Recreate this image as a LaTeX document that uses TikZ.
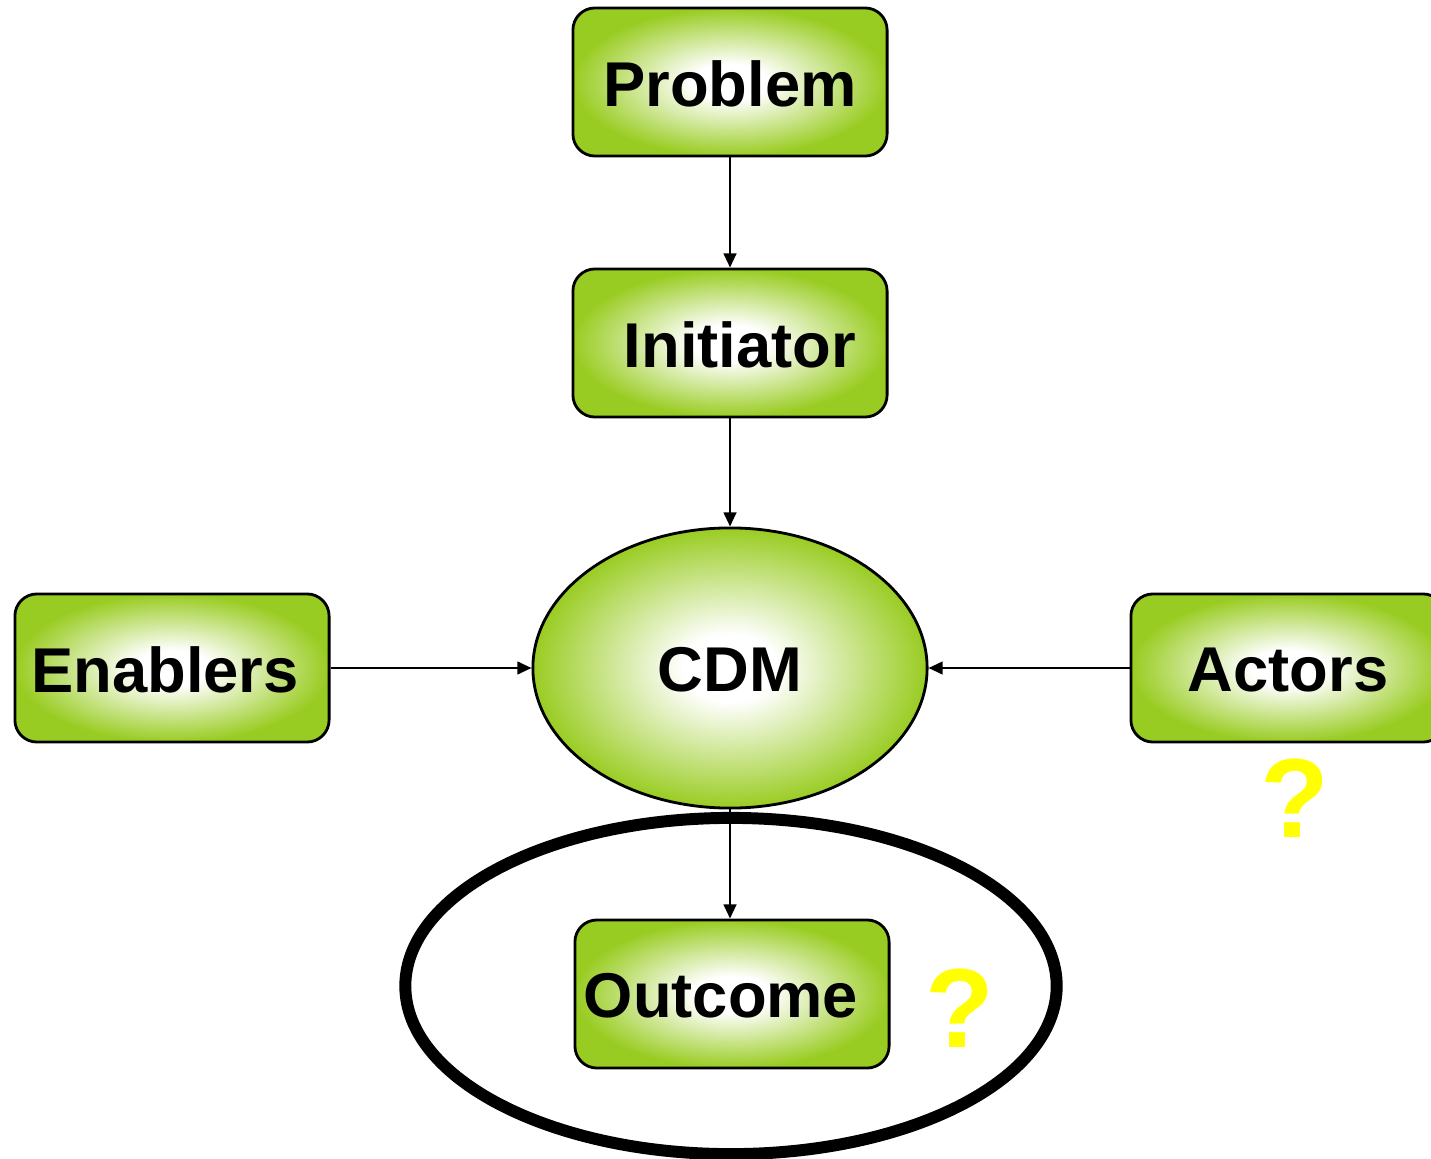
\documentclass[tikz,border=0pt]{standalone}
\usepackage{fontspec}
\setmainfont{Liberation Sans}
\usetikzlibrary{shapes.geometric,arrows.meta}
\definecolor{boxgreen}{RGB}{153,204,34}
\definecolor{qyellow}{RGB}{255,255,0}
\pgfdeclareradialshading{glow}{\pgfpoint{0bp}{0bp}}{color(0bp)=(white); color(6bp)=(white); color(25bp)=(boxgreen); color(50bp)=(boxgreen)}
\begin{document}
\begin{tikzpicture}[x=0.01cm,y=-0.01cm,
  box/.style={draw=black, line width=0.8pt, rounded corners=0.22cm, minimum width=3.14cm, minimum height=1.48cm, shade, shading=glow, inner sep=0pt},
  oval/.style={ellipse, draw=black, line width=0.8pt, minimum width=3.94cm, minimum height=2.80cm, shade, shading=glow, inner sep=0pt},
  lbl/.style={font=\fontsize{18}{21}\selectfont\bfseries, inner sep=0pt},
  conn/.style={line width=0.6pt, -{Triangle[length=4pt,width=3.6pt]}},
  qmark/.style={text=qyellow, font=\fontsize{32}{36}\selectfont\bfseries, inner sep=0pt}]
\useasboundingbox (0,0) rectangle (1431,1158);
\node[ellipse, draw=black, line width=3.4pt, minimum width=6.51cm, minimum height=3.36cm] (ring) at (731,986) {};
\node[box, label={[lbl,yshift=-0.02cm]center:Problem}] (problem) at (730,82) {};
\node[box, label={[lbl,xshift=0.1cm,yshift=-0.02cm]center:Initiator}] (initiator) at (730,343) {};
\node[oval, label={[lbl,yshift=-0.02cm]center:CDM}] (cdm) at (730,668) {};
\node[box, label={[lbl,xshift=-0.07cm,yshift=-0.02cm]center:Enablers}] (enablers) at (172,668) {};
\node[box, label={[lbl,yshift=-0.02cm]center:Actors}] (actors) at (1288,668) {};
\node[box, label={[lbl,xshift=-0.11cm,yshift=-0.02cm]center:Outcome}] (outcome) at (732,994) {};
\node[qmark] (q1) at (1295,798) {?};
\node[qmark] (q2) at (960,1008) {?};
\draw[conn] (problem) -- (initiator);
\draw[conn] (initiator) -- (cdm);
\draw[conn] (enablers) -- (cdm);
\draw[conn] (actors) -- (cdm);
\draw[conn] (cdm.south) -- (cdm.south |- outcome.north);
\end{tikzpicture}
\end{document}
